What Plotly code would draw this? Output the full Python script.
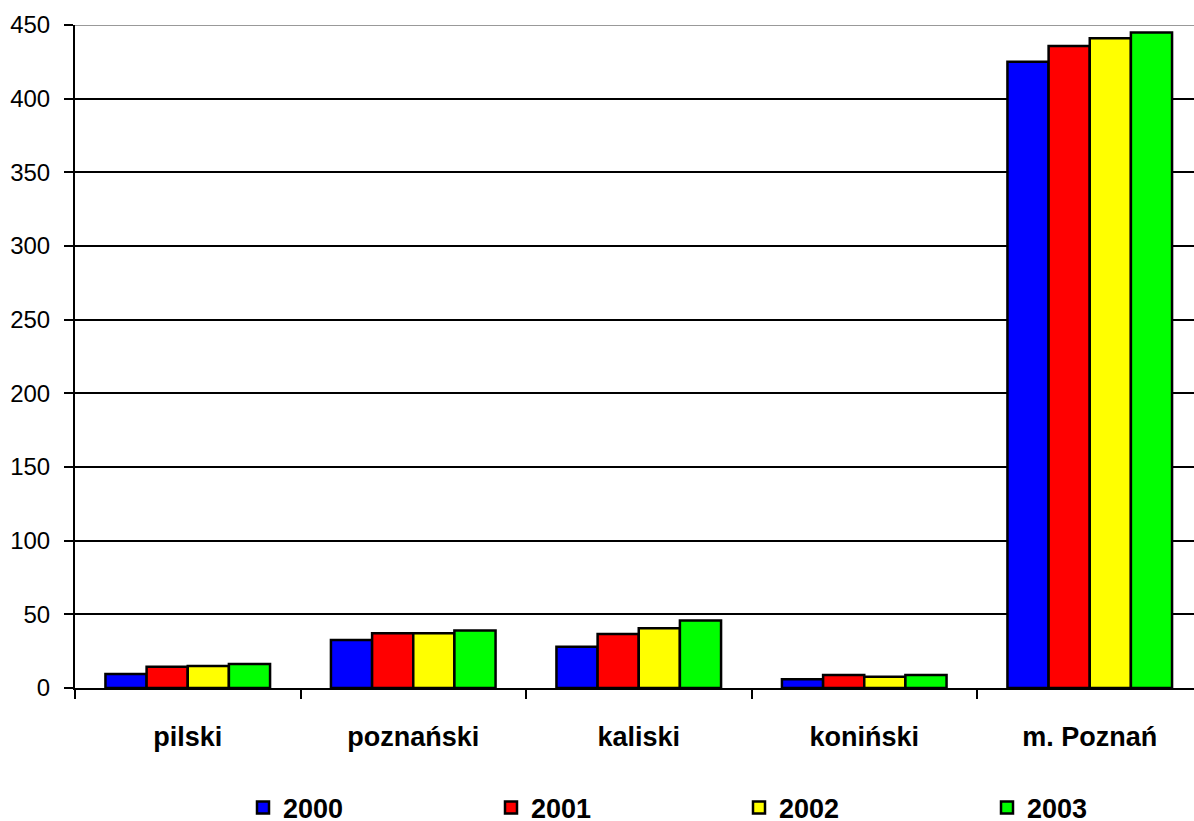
import plotly.graph_objects as go

categories = ["pilski", "poznański", "kaliski", "koniński", "m. Poznań"]
years = ["2000", "2001", "2002", "2003"]
v2000 = [9.5, 32.6, 28, 5.9, 425]
v2001 = [14.5, 37.2, 36.7, 8.8, 435.8]
v2002 = [15, 37.2, 40.6, 7.7, 441]
v2003 = [16.3, 39, 45.8, 8.8, 444.9]
colors = ["#0000FF", "#FF0000", "#FFFF00", "#00FF00"]
y_ticks = [0, 50, 100, 150, 200, 250, 300, 350, 400, 450]

FONT = "Liberation Sans, Arial, sans-serif"
legend_names = ["legend", "legend2", "legend3", "legend4"]
# plot area spans 75..1194 px (1119 px wide)
legend_x = [(243 - 75) / 1119, (491 - 75) / 1119, (739 - 75) / 1119, (987 - 75) / 1119]

fig = go.Figure()
for name, vals, col, lg in zip(years, [v2000, v2001, v2002, v2003], colors, legend_names):
    fig.add_trace(go.Bar(
        x=categories, y=vals, name=name, legend=lg,
        marker=dict(color=col, line=dict(color="black", width=2.5)),
    ))

layout_legends = {}
for lg, lx in zip(legend_names, legend_x):
    layout_legends[lg] = dict(
        x=lx, xanchor="left", y=-0.181, yanchor="middle",
        orientation="h", bgcolor="rgba(0,0,0,0)",
        font=dict(size=27, family=FONT, weight="bold", color="black"),
        itemwidth=30,
    )

fig.update_layout(
    width=1194, height=821,
    barmode="group", bargap=0.27, bargroupgap=0,
    plot_bgcolor="white", paper_bgcolor="white",
    margin=dict(l=75, r=0, t=25, b=133, autoexpand=False),
    font=dict(family=FONT, color="black"),
    showlegend=True,
    **layout_legends,
)
fig.update_yaxes(
    range=[0, 450], tickvals=y_ticks, showgrid=True, gridcolor="black", gridwidth=2,
    showline=True, linecolor="black", linewidth=2, ticks="outside", ticklen=9,
    tickwidth=2, tickcolor="black", tickfont=dict(size=24), zeroline=False,
    ticklabelstandoff=9, automargin=False,
)
fig.update_xaxes(
    range=[-0.5, -0.5 + 1119 / 225.5],
    showline=True, linecolor="black", linewidth=2, ticks="outside", ticklen=9,
    tickwidth=2, tickcolor="black", tickson="boundaries",
    tickfont=dict(size=27, weight="bold"), ticklabelstandoff=24,
    automargin=False,
)
fig.add_shape(type="line", xref="paper", yref="y", x0=0, x1=1, y0=450, y1=450,
              line=dict(color="#999999", width=2), layer="above")

fig.write_html("out.html", config={"displayModeBar": False},
               post_script="document.body.style.margin='0';")
